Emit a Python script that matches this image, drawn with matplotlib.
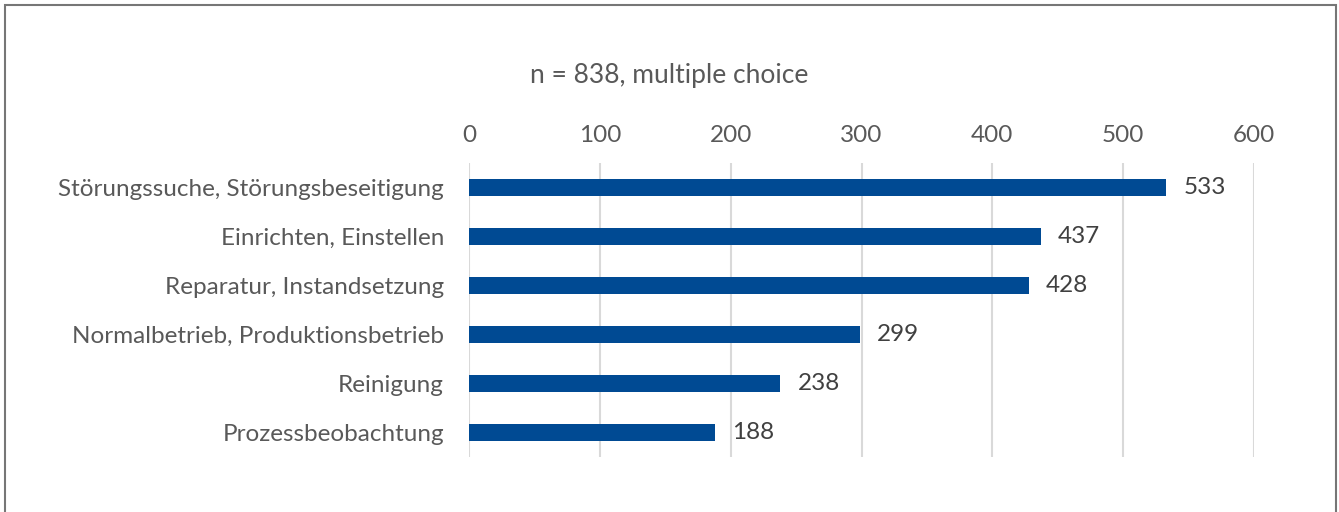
import matplotlib.pyplot as plt

categories = ["Störungssuche, Störungsbeseitigung", "Einrichten, Einstellen",
              "Reparatur, Instandsetzung", "Normalbetrieb, Produktionsbetrieb",
              "Reinigung", "Prozessbeobachtung"]
values = [533, 437, 428, 299, 238, 188]
title = "n = 838, multiple choice"

plt.rcParams['font.family'] = ['Lato', 'DejaVu Sans']
text_color = '#595959'
bar_color = '#004A93'
fs = 17.5

fig = plt.figure(figsize=(13.39, 5.12), dpi=100)
ax = fig.add_axes([0.3503, 0.1074, 0.5862, 0.5742])

pos = list(range(len(categories)))
ax.barh(pos, values, height=0.35, color=bar_color, zorder=3)
for p, v in zip(pos, values):
    ax.text(v + 13, p, str(v), va='center', ha='left', fontsize=fs, color='#404040')

ax.set_xlim(0, 600)
ax.set_ylim(len(categories) - 0.5, -0.5)
ax.set_yticks(pos)
ax.set_yticklabels(categories, fontsize=fs, color=text_color)
ax.set_xticks(range(0, 601, 100))
ax.tick_params(axis='x', top=True, labeltop=True, bottom=False, labelbottom=False,
               length=0, pad=12, labelsize=fs, labelcolor=text_color)
ax.tick_params(axis='y', length=0, pad=18)
ax.grid(axis='x', color='#D9D9D9', linewidth=1.5, zorder=0)
for s in ax.spines.values():
    s.set_visible(False)

fig.text(0.5, 1 - 76 / 512, title, ha='center', va='center', fontsize=19, color=text_color)

# outer frame
fig.patches.append(plt.Rectangle((5 / 1339, -0.1), 1331 / 1339, 1.1 - 5 / 512, transform=fig.transFigure,
                                 fill=False, edgecolor='#767676', linewidth=1.5))

fig.savefig('out.png', dpi=100)
